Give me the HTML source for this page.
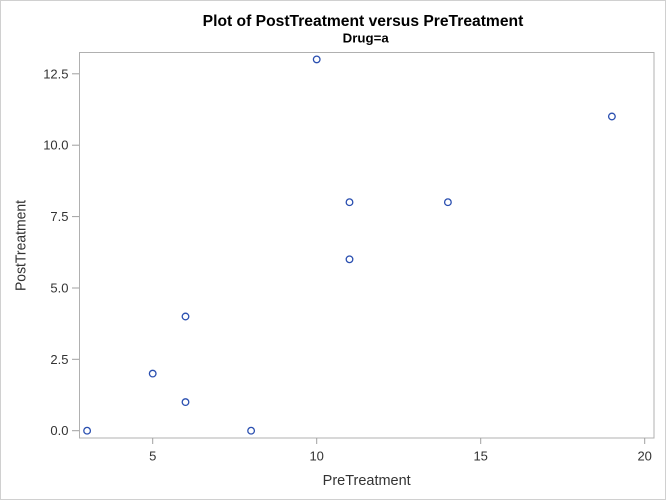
<!DOCTYPE html>
<html>
<head>
<meta charset="utf-8">
<style>
html,body{margin:0;padding:0;background:#fff;}
svg{display:block;}
text{font-family:"Liberation Sans",Arial,sans-serif;}
</style>
</head>
<body>
<svg width="666" height="500" viewBox="0 0 666 500" xmlns="http://www.w3.org/2000/svg">
  <rect x="0.5" y="0.5" width="665" height="499" fill="#fff" stroke="#d0d0d0" stroke-width="1"/>
  <!-- titles -->
  <text x="202.7" y="26" font-size="15.5" font-weight="bold" fill="#000" textLength="320.6" lengthAdjust="spacingAndGlyphs">Plot of PostTreatment versus PreTreatment</text>
  <text x="342.7" y="42.3" font-size="13" font-weight="bold" fill="#000" textLength="46" lengthAdjust="spacingAndGlyphs">Drug=a</text>
  <!-- plot frame -->
  <rect x="79.5" y="52.5" width="574.5" height="385.5" fill="none" stroke="#b0b0b0" stroke-width="1"/>
  <!-- y ticks -->
  <g stroke="#a0a0a0" stroke-width="1">
    <line x1="72" y1="430.7" x2="79" y2="430.7"/>
    <line x1="72" y1="359.3" x2="79" y2="359.3"/>
    <line x1="72" y1="288" x2="79" y2="288"/>
    <line x1="72" y1="216.6" x2="79" y2="216.6"/>
    <line x1="72" y1="145.2" x2="79" y2="145.2"/>
    <line x1="72" y1="73.8" x2="79" y2="73.8"/>
    <line x1="152.7" y1="438" x2="152.7" y2="444"/>
    <line x1="316.7" y1="438" x2="316.7" y2="444"/>
    <line x1="480.7" y1="438" x2="480.7" y2="444"/>
    <line x1="644.7" y1="438" x2="644.7" y2="444"/>
  </g>
  <g font-size="13" fill="#333" text-anchor="end">
    <text x="68.5" y="435.2">0.0</text>
    <text x="68.5" y="363.8">2.5</text>
    <text x="68.5" y="292.5">5.0</text>
    <text x="68.5" y="221.1">7.5</text>
    <text x="68.5" y="149.7">10.0</text>
    <text x="68.5" y="78.3">12.5</text>
  </g>
  <g font-size="13" fill="#333" text-anchor="middle">
    <text x="152.7" y="460.7">5</text>
    <text x="316.7" y="460.7">10</text>
    <text x="480.7" y="460.7">15</text>
    <text x="644.7" y="460.7">20</text>
  </g>
  <!-- axis labels -->
  <text x="322.7" y="485" font-size="14.4" fill="#333" textLength="88" lengthAdjust="spacingAndGlyphs">PreTreatment</text>
  <text transform="translate(25.5,291) rotate(-90)" x="0" y="0" font-size="14.4" fill="#333" textLength="91" lengthAdjust="spacingAndGlyphs">PostTreatment</text>
  <!-- markers -->
  <g fill="#fff" stroke="#2a4fb0" stroke-width="1.3">
    <circle cx="87.1" cy="430.7" r="3.3"/>
    <circle cx="152.7" cy="373.6" r="3.3"/>
    <circle cx="185.5" cy="316.5" r="3.3"/>
    <circle cx="185.5" cy="402.1" r="3.3"/>
    <circle cx="251.1" cy="430.7" r="3.3"/>
    <circle cx="316.7" cy="59.4" r="3.3"/>
    <circle cx="349.5" cy="202.2" r="3.3"/>
    <circle cx="349.5" cy="259.3" r="3.3"/>
    <circle cx="447.9" cy="202.2" r="3.3"/>
    <circle cx="611.9" cy="116.5" r="3.3"/>
  </g>
</svg>
</body>
</html>
